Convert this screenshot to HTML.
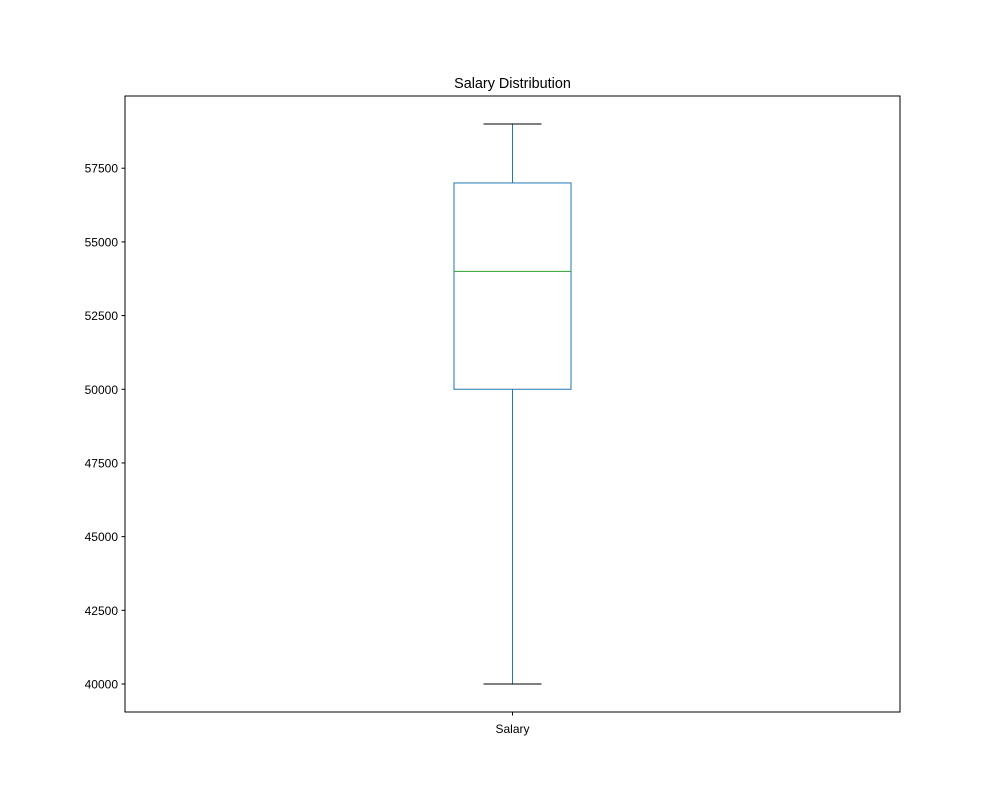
<!DOCTYPE html>
<html><head><meta charset="utf-8"><style>
body{margin:0;background:#fff;}
svg{display:block;font-family:"Liberation Sans","DejaVu Sans",sans-serif;}
</style></head><body>
<svg id="chart" width="1000" height="800" viewBox="0 0 1000 800">
<rect width="1000" height="800" fill="#fff"/>
<text x="512.5" y="88" text-anchor="middle" font-size="14.4">Salary Distribution</text>
<g id="yaxis"></g>
<g id="plot"></g>
<rect x="125" y="96" width="775" height="616" fill="none" stroke="#000" stroke-width="1"/>
<line x1="512.5" y1="712" x2="512.5" y2="715.5" stroke="#000"/>
<text x="512.5" y="733" text-anchor="middle" font-size="12">Salary</text>
</svg>
<script>
const categories=["Salary"];
const whiskerLow=[40000];
const q1=[50000];
const median=[54000];
const q3=[57000];
const whiskerHigh=[59000];
const yTicks=[40000,42500,45000,47500,50000,52500,55000,57500];
const yMin=39050,yMax=59950;
const plotTop=96,plotBottom=712;
function y(v){return plotBottom-(v-yMin)/(yMax-yMin)*(plotBottom-plotTop);}
function x(i){return 125+775*(i+0.5)/categories.length;}
const NS="http://www.w3.org/2000/svg";
function mk(tag,attrs,parent){const e=document.createElementNS(NS,tag);for(const k in attrs)e.setAttribute(k,attrs[k]);parent.appendChild(e);return e;}
const ya=document.getElementById('yaxis');
yTicks.forEach(t=>{
 const l=mk('line',{x1:121.5,x2:125,y1:y(t),y2:y(t),stroke:'#000'},ya);
 
 
 const tx=mk('text',{x:118,y:y(t)+4.5,'text-anchor':'end','font-size':12},ya);
 tx.textContent=t;
 
 
});
const p=document.getElementById('plot');
categories.forEach((c,i)=>{
 const cx=x(i),bw=117,cw=58;
 const c1='#1f77b4';
 const w1=mk('line',{x1:cx,x2:cx,y1:y(whiskerLow[i]),y2:y(q1[i]),stroke:c1},p);
 
 
 const w2=mk('line',{x1:cx,x2:cx,y1:y(q3[i]),y2:y(whiskerHigh[i]),stroke:c1},p);
 
 
 const cap1=mk('line',{x1:cx-cw/2,x2:cx+cw/2,y1:y(whiskerLow[i]),y2:y(whiskerLow[i]),stroke:'#000'},p);
 
 
 const cap2=mk('line',{x1:cx-cw/2,x2:cx+cw/2,y1:y(whiskerHigh[i]),y2:y(whiskerHigh[i]),stroke:'#000'},p);
 
 
 const b=mk('rect',{x:cx-bw/2,y:y(q3[i]),width:bw,height:y(q1[i])-y(q3[i]),fill:'none',stroke:c1},p);
 
 
 const m=mk('line',{x1:cx-bw/2,x2:cx+bw/2,y1:y(median[i]),y2:y(median[i]),stroke:'#2ca02c'},p);
 
 
});
</script>
</body></html>
